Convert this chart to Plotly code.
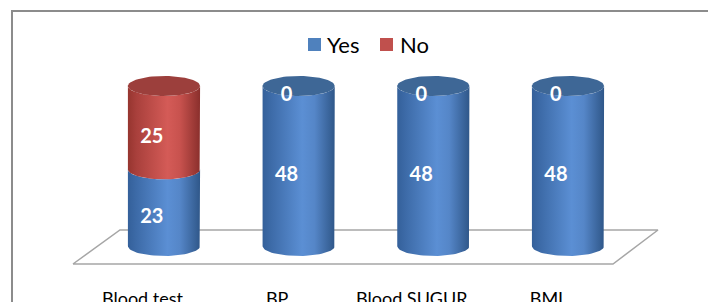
import numpy as np
import plotly.graph_objects as go

# ---- data ----
categories = ["Blood test", "BP", "Blood SUGUR", "BMI"]
series_names = ["Yes", "No"]
yes_values = [23, 48, 48, 48]
no_values = [25, 0, 0, 0]

# ---- style ----
legend_colors = ["#4F81BD", "#C0504D"]
body_scales = [
    [[0, "#34609a"], [0.12, "#3d6ba8"], [0.55, "#5b8fd4"], [0.72, "#5586c8"], [1, "#2f5789"]],
    [[0, "#96352f"], [0.12, "#a9403c"], [0.55, "#d45b57"], [0.72, "#c8524e"], [1, "#8a2f2c"]],
]
cap_colors = ["#3e6796", "#9c3f3c"]
FONT = "Lato"

RX = 0.268   # half width of a cylinder in x units
RY = 3.0     # vertical radius of the cap ellipse in y units

fig = go.Figure()

x_pos = list(range(len(categories)))
n = len(categories)

# floor (drawn below)
floor_x = [-0.676, -0.327, (n - 1) + 0.668, (n - 1) + 0.334, -0.676]
floor_y = [-5.4, 4.8, 4.8, -5.4, -5.4]
fig.add_trace(go.Scatter(x=floor_x, y=floor_y, mode="lines", fill="toself",
                         fillcolor="white", line=dict(color="#a6a6a6", width=1.5),
                         hoverinfo="skip", showlegend=False))


def body_path(cx, y0, y1):
    t_top = np.linspace(np.pi, 2 * np.pi, 40)
    t_bot = np.linspace(2 * np.pi, np.pi, 40)
    xs = [cx - RX, cx - RX]
    ys = [y0, y1]
    xs += list(cx + RX * np.cos(t_top))
    ys += list(y1 + RY * np.sin(t_top))
    xs += [cx + RX]
    ys += [y0]
    xs += list(cx + RX * np.cos(t_bot))
    ys += list(y0 + RY * np.sin(t_bot))
    xs.append(cx - RX)
    ys.append(y0)
    return xs, ys


def ellipse(cx, cy):
    t = np.linspace(0, 2 * np.pi, 80)
    return list(cx + RX * np.cos(t)), list(cy + RY * np.sin(t))


all_series = [yes_values, no_values]
label_x, label_y, label_t = [], [], []
for i, cx in enumerate(x_pos):
    base = 0
    top_color = None
    for s, vals in enumerate(all_series):
        v = vals[i]
        if v > 0:
            xs, ys = body_path(cx, base, base + v)
            fig.add_trace(go.Scatter(
                x=xs, y=ys, mode="lines", fill="toself",
                fillgradient=dict(type="horizontal", colorscale=body_scales[s]),
                line=dict(width=0), hoverinfo="skip", showlegend=False))
            top_color = cap_colors[s]
        label_x.append(cx - 0.09)
        label_y.append(base + v / 2 - 3.0)
        label_t.append(str(v))
        base += v
    ex, ey = ellipse(cx, base)
    fig.add_trace(go.Scatter(x=ex, y=ey, mode="lines", fill="toself",
                             fillcolor=top_color, line=dict(width=0),
                             hoverinfo="skip", showlegend=False))

fig.add_trace(go.Scatter(x=label_x, y=label_y, mode="text", text=label_t,
                         textfont=dict(family=FONT, size=20, color="white", weight="bold"),
                         hoverinfo="skip", showlegend=False))

H_PLOT = 286.0
W = 708.0
# manual legend
shapes = []
annotations = []
leg_sq_x = [308, 380]
leg_txt_x = [325, 398]
for k, name in enumerate(series_names):
    shapes.append(dict(type="rect", xref="paper", yref="paper",
                       x0=leg_sq_x[k] / W, x1=(leg_sq_x[k] + 13) / W,
                       y0=1 - 51 / H_PLOT, y1=1 - 38 / H_PLOT,
                       fillcolor=legend_colors[k], line=dict(width=0)))
    annotations.append(dict(text=name, xref="paper", yref="paper",
                            x=leg_txt_x[k] / W, y=1 - 44.5 / H_PLOT,
                            xanchor="left", yanchor="middle", showarrow=False,
                            font=dict(family=FONT, size=22, color="black")))

# outer frame
shapes.append(dict(type="rect", xref="paper", yref="paper",
                   x0=12 / W, x1=1.2, y0=-0.3, y1=1 - 11 / H_PLOT,
                   line=dict(color="#8c8c8c", width=2), fillcolor="rgba(0,0,0,0)"))

px_per_x = 134.67
px_per_y = 160 / 48.0
fig.update_layout(
    width=708, height=302,
    margin=dict(l=0, r=0, t=0, b=16, autoexpand=False),
    paper_bgcolor="white", plot_bgcolor="white",
    showlegend=False,
    shapes=shapes, annotations=annotations,
    xaxis=dict(range=[-164 / px_per_x, (708 - 164) / px_per_x],
               tickvals=[p - 0.16 for p in x_pos], ticktext=categories,
               showgrid=False, zeroline=False, showline=False, ticks="",
               tickfont=dict(family=FONT, size=18, color="black"), fixedrange=True),
    yaxis=dict(range=[(246 - 286) / px_per_y, 246 / px_per_y], visible=False,
               showgrid=False, zeroline=False, fixedrange=True),
)

fig.write_html("out.html", config={"displayModeBar": False},
               post_script="document.body.style.margin='0';document.body.style.overflow='hidden';")
